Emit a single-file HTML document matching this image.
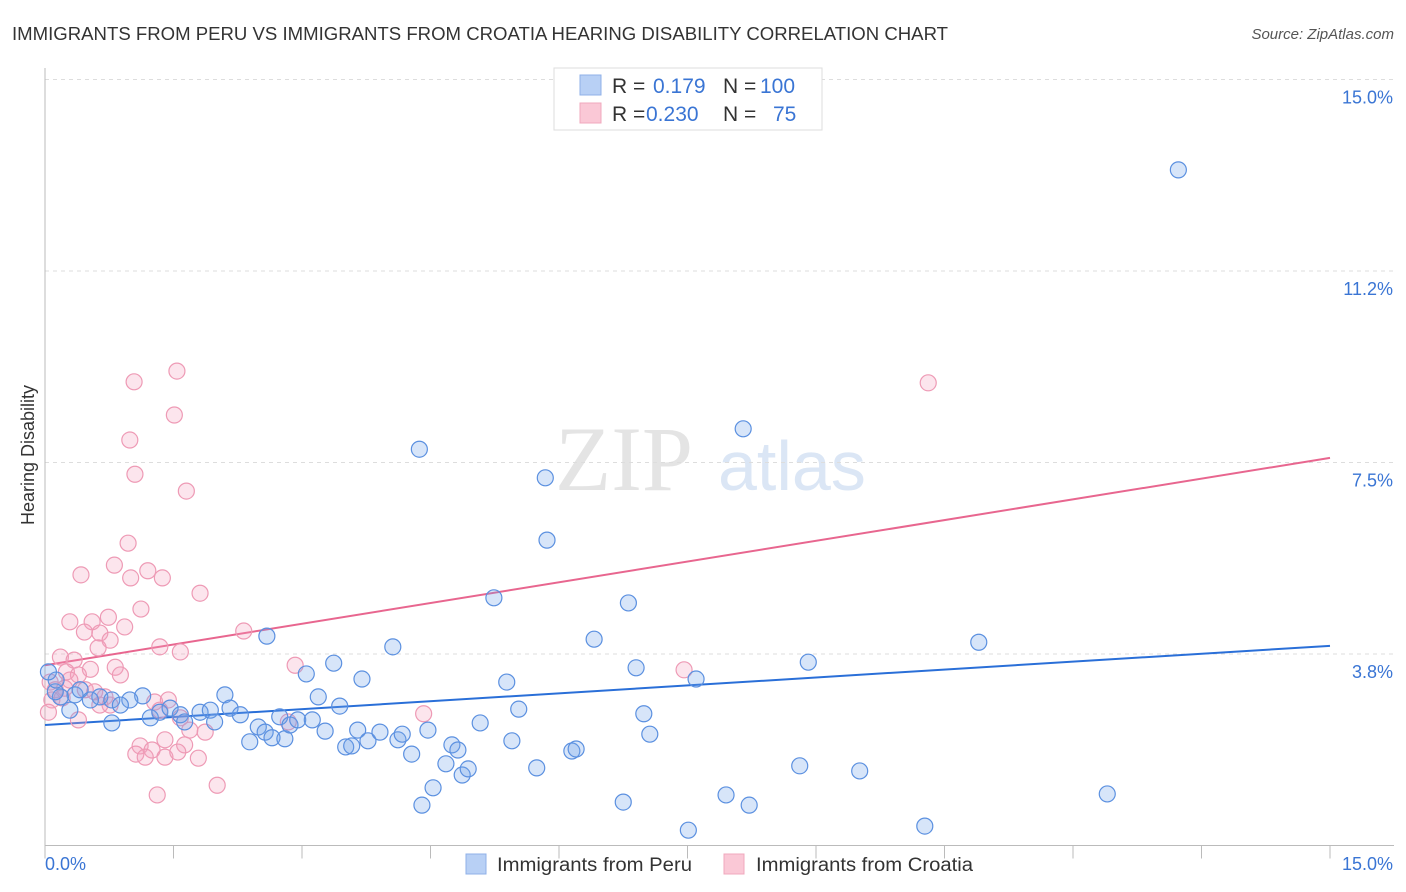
<!DOCTYPE html>
<html><head><meta charset="utf-8"><style>
body{margin:0;background:#fff;font-family:"Liberation Sans",sans-serif;}
svg{display:block}
</style></head><body>
<svg id="chart" width="1406" height="892" xmlns="http://www.w3.org/2000/svg">
<text x="12" y="40" font-size="18" fill="#333" textLength="936" lengthAdjust="spacingAndGlyphs">IMMIGRANTS FROM PERU VS IMMIGRANTS FROM CROATIA HEARING DISABILITY CORRELATION CHART</text>
<text x="1394" y="39" font-size="15" fill="#555" font-style="italic" text-anchor="end">Source: ZipAtlas.com</text>
<g>
<text x="555" y="490" font-size="92" font-family="Liberation Serif,serif" fill="#e4e4e4">ZIP</text>
<text x="718" y="490" font-size="70" fill="#dbe6f5">atlas</text>
</g>
<g id="grid"></g>
<g id="axes"></g>
<g id="trends"></g>
<g id="points"></g>
<text x="34" y="455" font-size="18" fill="#333" text-anchor="middle" transform="rotate(-90 34 455)">Hearing Disability</text>
<g>
<rect x="554" y="68" width="268" height="62" fill="#fff" stroke="#ddd"/>
<rect x="580" y="75" width="21" height="20" fill="#b8d0f5" stroke="#8fb0e8"/>
<rect x="580" y="103" width="21" height="20" fill="#fac8d6" stroke="#f0a8bd"/>
<text x="612" y="93" font-size="21" fill="#333">R = <tspan fill="#3a75d4" x="653">0.179</tspan><tspan fill="#333" x="723">N = </tspan><tspan fill="#3a75d4" x="760">100</tspan></text>
<text x="612" y="121" font-size="21" fill="#333">R = <tspan fill="#3a75d4" x="646">0.230</tspan><tspan fill="#333" x="723">N = </tspan><tspan fill="#3a75d4" x="773">75</tspan></text>
</g>
<g>
<rect x="466" y="854" width="20" height="20" fill="#b8d0f5" stroke="#8fb0e8"/>
<text x="497" y="871" font-size="19" fill="#333" textLength="195" lengthAdjust="spacingAndGlyphs">Immigrants from Peru</text>
<rect x="724" y="854" width="20" height="20" fill="#fac8d6" stroke="#f0a8bd"/>
<text x="756" y="871" font-size="19" fill="#333" textLength="217" lengthAdjust="spacingAndGlyphs">Immigrants from Croatia</text>
</g>
</svg>
<script>
const yTicks=[3.75,7.5,11.25,15];
const yTickLabels=["3.8%","7.5%","11.2%","15.0%"];
const xTickCount=10;
const peruX=[13.23,8.15,4.37,5.84,5.86,5.24,6.81,6.41,10.90,2.59,4.06,8.91,6.90,3.37,3.05,3.70,7.60,5.39,3.19,3.44,5.53,6.99,2.10,1.14,0.99,0.64,0.78,0.35,0.18,0.12,0.41,0.53,0.29,0.78,0.88,1.23,1.34,1.46,1.58,1.63,1.81,1.93,1.98,2.16,2.28,2.39,2.49,2.57,2.65,2.74,2.80,2.86,2.95,3.12,3.27,3.51,3.58,3.65,3.77,3.91,4.12,4.17,4.28,4.47,4.68,4.75,4.82,4.87,4.94,5.08,5.45,5.74,6.15,6.20,7.06,4.53,4.40,6.75,7.95,8.22,7.51,10.27,9.51,8.81,12.40,0.13,0.04];
const peruY=[13.23,8.16,7.76,7.20,5.98,4.85,4.75,4.04,3.98,4.10,3.89,3.59,3.48,3.57,3.36,3.26,3.26,3.20,2.91,2.73,2.67,2.58,2.95,2.93,2.85,2.91,2.85,2.95,2.91,3.01,3.05,2.85,2.65,2.40,2.75,2.50,2.61,2.69,2.56,2.42,2.61,2.65,2.42,2.69,2.56,2.03,2.32,2.22,2.11,2.52,2.09,2.36,2.46,2.46,2.24,1.93,1.95,2.26,2.05,2.22,2.07,2.18,1.79,2.26,1.60,1.97,1.87,1.38,1.50,2.40,2.05,1.52,1.85,1.89,2.18,1.13,0.79,0.85,0.99,0.79,0.30,0.38,1.46,1.56,1.01,3.24,3.40];
const croX=[1.54,1.04,10.31,1.51,0.99,1.05,1.65,0.97,0.81,0.42,1.20,1.00,1.37,1.81,1.12,0.74,0.29,0.55,0.46,0.93,0.64,0.76,0.62,1.34,1.58,2.32,2.92,7.46,0.18,0.34,0.53,0.82,0.88,0.25,0.39,0.06,0.12,0.23,0.08,0.04,0.47,0.58,0.70,0.76,0.39,1.28,1.44,1.34,1.58,1.69,1.87,1.40,1.63,1.11,1.25,1.06,1.17,1.40,1.55,1.79,1.31,2.01,4.42,2.84,0.64,0.20,0.29];
const croY=[9.29,9.08,9.06,8.43,7.94,7.27,6.94,5.92,5.49,5.30,5.38,5.24,5.24,4.94,4.63,4.47,4.38,4.38,4.18,4.28,4.16,4.02,3.87,3.89,3.79,4.20,3.53,3.44,3.69,3.63,3.45,3.49,3.34,3.40,3.34,3.20,3.05,3.08,2.85,2.61,3.05,3.01,2.91,2.75,2.46,2.81,2.85,2.65,2.50,2.26,2.22,2.07,1.97,1.95,1.87,1.79,1.73,1.73,1.83,1.71,0.99,1.18,2.58,2.42,2.75,2.89,3.24];
const peruTrend=[2.36,3.91];
const croTrend=[3.53,7.59];
const NS="http://www.w3.org/2000/svg";
const X0=45,X1=1330,Y0=845.5,Y1=79.5,XMAX=15,YMAX=15;
function sx(v){return X0+(X1-X0)*v/XMAX;}
function sy(v){return Y0-(Y0-Y1)*v/YMAX;}
function mk(tag,attrs,parent){const e=document.createElementNS(NS,tag);for(const k in attrs)e.setAttribute(k,attrs[k]);parent.appendChild(e);return e;}
const grid=document.getElementById('grid'),axes=document.getElementById('axes'),trends=document.getElementById('trends'),pts=document.getElementById('points');
yTicks.forEach((t,i)=>{
  const l=mk('line',{x1:X0,x2:1394,y1:sy(t),y2:sy(t),stroke:'#ddd','stroke-dasharray':'4,4'},grid);
  
  
  const tx=mk('text',{x:1393,y:sy(t)+24,'font-size':18,fill:'#3a75d4','text-anchor':'end'},axes);
  tx.textContent=yTickLabels[i];
  
  
});
const ya=mk('line',{x1:X0,x2:X0,y1:68,y2:Y0,stroke:'#bbb'},axes);


const xa=mk('line',{x1:X0,x2:1394,y1:Y0,y2:Y0,stroke:'#bbb'},axes);


for(let i=0;i<=xTickCount;i++){
  const v=XMAX*i/xTickCount;
  const t=mk('line',{x1:sx(v),x2:sx(v),y1:Y0,y2:Y0+13,stroke:'#bbb'},axes);
  
  
}
const xl0=mk('text',{x:45,y:870,'font-size':18,fill:'#3a75d4'},axes);xl0.textContent='0.0%';


const xl1=mk('text',{x:1393,y:870,'font-size':18,fill:'#3a75d4','text-anchor':'end'},axes);xl1.textContent='15.0%';


function drawPts(xs,ys,fill,stroke,name){
  for(let i=0;i<xs.length;i++){
    const c=mk('circle',{cx:sx(xs[i]),cy:sy(ys[i]),r:8,fill:fill,stroke:stroke,'stroke-width':1.2},pts);
    
    
  }
}
drawPts(croX,croY,'rgba(244,160,190,0.28)','#ee9ab5','croatia-point');
drawPts(peruX,peruY,'rgba(110,160,235,0.28)','#5b90e0','peru-point');
const tp=mk('line',{x1:sx(0),y1:sy(peruTrend[0]),x2:sx(15),y2:sy(peruTrend[1]),stroke:'#2a6fd8','stroke-width':2},trends);


const tc=mk('line',{x1:sx(0),y1:sy(croTrend[0]),x2:sx(15),y2:sy(croTrend[1]),stroke:'#e8668f','stroke-width':2},trends);


</script>
</body></html>
